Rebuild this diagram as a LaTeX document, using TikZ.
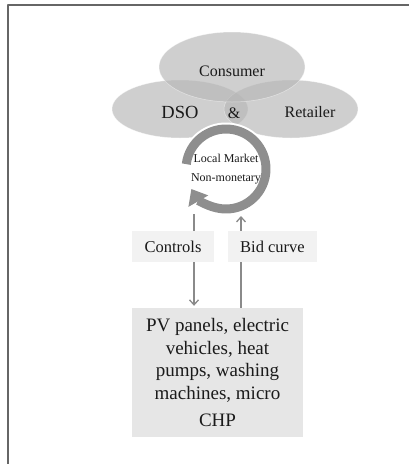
\documentclass[tikz,border=0pt]{standalone}
\usepackage{fontspec}
\setmainfont{Liberation Serif}
\usetikzlibrary{arrows.meta,calc}
\definecolor{ellgray}{HTML}{B6B6B6}
\definecolor{ringgray}{HTML}{8E8E8E}
\definecolor{flowgray}{HTML}{8A8A8A}
\definecolor{tagfill}{HTML}{F2F2F2}
\definecolor{devfill}{HTML}{E6E6E6}
\definecolor{txtgray}{HTML}{1A1A1A}
\definecolor{framegray}{HTML}{666666}

\begin{document}
\begin{tikzpicture}[x=1pt, y=-1pt, line join=round, >={Straight Barb[length=5pt,width=9pt]}]
\tikzset{actor/.style={fill=ellgray, fill opacity=0.65, draw=white, draw opacity=0.5, line width=0.5pt},
  actorname/.style={text=txtgray, font=\fontsize{16}{18}\selectfont},
  tag/.style={fill=tagfill, text=txtgray, minimum height=31pt, inner sep=0pt, font=\fontsize{16.5}{18}\selectfont},
  flow/.style={draw=flowgray, line width=1.3pt}}

\useasboundingbox (0,0) rectangle (409,464);
\draw[framegray, line width=1.5pt] (8,464) -- (8,5) -- (409,5);

% actors
\path[actor] (180,109) ellipse [x radius=68pt, y radius=29pt];
\path[actor] (291,109) ellipse [x radius=67pt, y radius=29pt];
\path[actor] (232,67) ellipse [x radius=73pt, y radius=35pt];
\node[actorname] (consumer) at (232,71) {Consumer};
\node[actorname, font=\fontsize{18.5}{20}\selectfont] (dso) at (180,112) {DSO};
\node[actorname] (amp) at (234,113) {\&};
\node[actorname] (retailer) at (310,112) {Retailer};

% local market
\coordinate (mkt) at (226,169);
\draw[white, line width=13pt] (mkt) ++(173:40pt) arc[start angle=173, end angle=-150, radius=40pt];
\draw[ringgray, line width=9pt, -{Triangle[width=22pt,length=14pt]}] (mkt) ++(173:40pt) arc[start angle=173, end angle=-150, radius=40pt];
\node[text=txtgray, align=center, font=\fontsize{12}{19}\selectfont] (mktlabel) at (mkt) {Local Market\\Non-monetary};

% signals
\coordinate (ctrlsrc) at (194,214);
\coordinate (bidend) at (241,216);
\node[fill=devfill, text=txtgray, minimum width=171pt, minimum height=129pt, inner sep=0pt, align=center,
  font=\fontsize{19}{22.7}\selectfont] (dev) at (217.5,372.5)
  {PV panels, electric\\vehicles, heat\\pumps, washing\\machines, micro\\[4.5pt]CHP};
\draw[flow, ->, shorten >=2pt] (ctrlsrc) -- (ctrlsrc |- dev.north);
\draw[flow, ->] (dev.north -| bidend) -- (bidend);
\node[tag, minimum width=82pt] (ctrl) at (173,246.5) {Controls};
\node[tag, minimum width=89pt] (bid) at (272.5,246.5) {Bid curve};
\end{tikzpicture}
\end{document}
